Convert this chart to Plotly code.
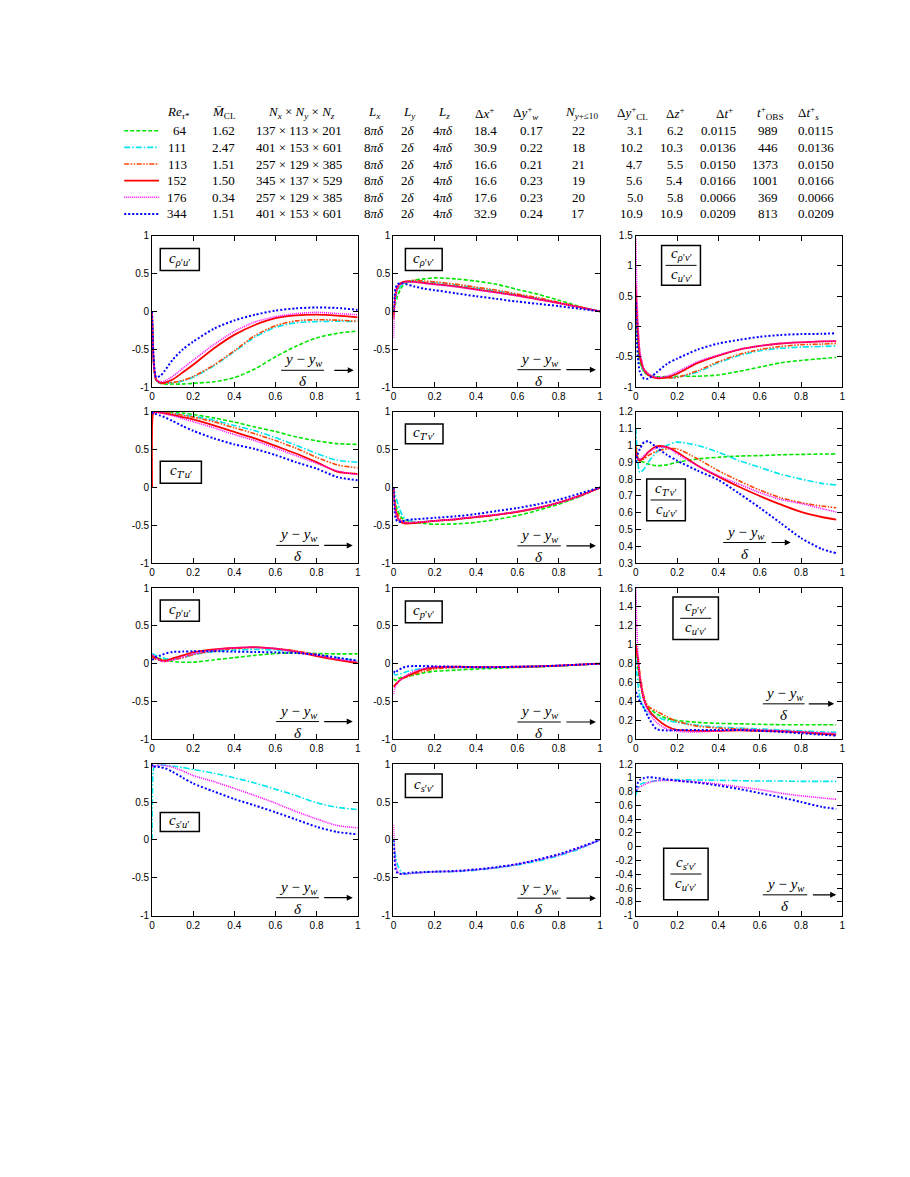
import plotly.graph_objects as go

# page body has an 8px margin; draw in reference pixel coordinates shifted by it
OFF = 8
W, H = 910 - 2 * OFF, 1177 - 2 * OFF
SERIF = "Liberation Serif"
SANS = "Liberation Sans"

# ---------------- table data ----------------
RE_TAU = ["64", "111", "113", "152", "176", "344"]
M_CL = ["1.62", "2.47", "1.51", "1.50", "0.34", "1.51"]
GRID_N = ["137 × 113 × 201", "401 × 153 × 601", "257 × 129 × 385",
          "345 × 137 × 529", "257 × 129 × 385", "401 × 153 × 601"]
L_X = ["8<i>πδ</i>"] * 6
L_Y = ["2<i>δ</i>"] * 6
L_Z = ["4<i>πδ</i>"] * 6
DX_P = ["18.4", "30.9", "16.6", "16.6", "17.6", "32.9"]
DYW_P = ["0.17", "0.22", "0.21", "0.23", "0.23", "0.24"]
NY10 = ["22", "18", "21", "19", "20", "17"]
DYCL_P = ["3.1", "10.2", "4.7", "5.6", "5.0", "10.9"]
DZ_P = ["6.2", "10.3", "5.5", "5.4", "5.8", "10.9"]
DT_P = ["0.0115", "0.0136", "0.0150", "0.0166", "0.0066", "0.0209"]
T_OBS = ["989", "446", "1373", "1001", "369", "813"]
DTS_P = ["0.0115", "0.0136", "0.0150", "0.0166", "0.0066", "0.0209"]

# ---------------- series styles ----------------
COLORS = ["#00e600", "#00e5ee", "#ff4500", "#ff0000", "#ff00ff", "#0000ff"]
DASHES = ["4px,2px", "6px,2px,1.5px,2px", "5px,1.5px,1.5px,1.5px,1.5px,1.5px",
          "solid", "1px,1px", "2px,2px"]
WIDTHS = [1.6, 1.6, 1.6, 1.8, 1.6, 2.0]

# ---------------- curve data ----------------
XA = [0, 0.005, 0.01, 0.02, 0.04, 0.06, 0.1, 0.15, 0.2, 0.3, 0.4, 0.5, 0.6, 0.7, 0.8, 0.9, 1.0]
XB = [0, 0.005, 0.01, 0.02, 0.04, 0.06, 0.1, 0.15, 0.2, 0.3, 0.4, 0.5, 0.6, 0.7, 0.8, 0.9, 0.97]

RHO_U = [
    [0, -0.5, -0.76, -0.91, -0.95, -0.96, -0.96, -0.96, -0.95, -0.93, -0.875, -0.76, -0.6, -0.46, -0.35, -0.29, -0.26],
    [0, -0.5, -0.76, -0.91, -0.95, -0.95, -0.94, -0.92, -0.87, -0.72, -0.53, -0.34, -0.21, -0.15, -0.135, -0.13, -0.135],
    [0, -0.5, -0.76, -0.91, -0.95, -0.95, -0.94, -0.91, -0.86, -0.71, -0.52, -0.32, -0.19, -0.125, -0.11, -0.115, -0.13],
    [0, -0.5, -0.75, -0.9, -0.94, -0.94, -0.9, -0.805, -0.705, -0.49, -0.31, -0.18, -0.09, -0.053, -0.044, -0.057, -0.078],
    [0, -0.5, -0.75, -0.9, -0.93, -0.92, -0.86, -0.75, -0.645, -0.44, -0.265, -0.14, -0.07, -0.03, -0.013, -0.028, -0.045],
    [0, -0.45, -0.7, -0.87, -0.85, -0.79, -0.64, -0.5, -0.40, -0.23, -0.12, -0.045, 0.01, 0.04, 0.052, 0.045, 0.02],
]
RHO_V = [
    [0, 0.05, 0.1, 0.2, 0.32, 0.37, 0.41, 0.43, 0.443, 0.43, 0.40, 0.357, 0.29, 0.226, 0.148, 0.065, 0],
    [0, 0.08, 0.15, 0.27, 0.35, 0.38, 0.40, 0.39, 0.38, 0.35, 0.31, 0.27, 0.22, 0.17, 0.115, 0.055, 0],
    [-0.05, 0.1, 0.2, 0.3, 0.37, 0.39, 0.41, 0.40, 0.39, 0.36, 0.32, 0.28, 0.23, 0.18, 0.12, 0.06, 0],
    [-0.1, 0.1, 0.22, 0.33, 0.38, 0.395, 0.39, 0.375, 0.36, 0.33, 0.29, 0.25, 0.21, 0.16, 0.11, 0.055, 0],
    [-0.35, 0.0, 0.2, 0.32, 0.37, 0.39, 0.39, 0.37, 0.355, 0.325, 0.285, 0.245, 0.205, 0.16, 0.11, 0.055, 0],
    [0, 0.2, 0.3, 0.36, 0.37, 0.36, 0.33, 0.30, 0.28, 0.24, 0.2, 0.165, 0.13, 0.1, 0.07, 0.035, 0],
]
RHO_V_RATIO = [
    [0.3, 0.0, -0.3, -0.6, -0.75, -0.8, -0.83, -0.825, -0.82, -0.82, -0.8, -0.74, -0.67, -0.6, -0.56, -0.53, -0.51],
    [0.5, 0.1, -0.2, -0.55, -0.75, -0.8, -0.84, -0.845, -0.84, -0.75, -0.6, -0.48, -0.4, -0.36, -0.34, -0.33, -0.32],
    [0.7, 0.3, 0.0, -0.45, -0.7, -0.78, -0.85, -0.85, -0.84, -0.73, -0.58, -0.46, -0.38, -0.33, -0.3, -0.29, -0.28],
    [0.6, 0.2, -0.1, -0.5, -0.72, -0.8, -0.85, -0.84, -0.78, -0.6, -0.48, -0.38, -0.32, -0.28, -0.26, -0.245, -0.24],
    [1.45, 0.6, 0.1, -0.4, -0.7, -0.78, -0.84, -0.82, -0.75, -0.58, -0.47, -0.38, -0.32, -0.28, -0.26, -0.245, -0.24],
    [0.4, -0.2, -0.5, -0.75, -0.86, -0.86, -0.76, -0.62, -0.53, -0.38, -0.28, -0.22, -0.17, -0.14, -0.125, -0.12, -0.11],
]
T_U = [
    [1, 0.99, 0.995, 1.0, 1.0, 1.0, 0.995, 0.985, 0.965, 0.92, 0.865, 0.80, 0.74, 0.67, 0.617, 0.58, 0.57],
    [1, 0.99, 0.995, 1.0, 0.995, 0.99, 0.98, 0.96, 0.94, 0.89, 0.82, 0.75, 0.66, 0.56, 0.45, 0.36, 0.335],
    [0, 0.99, 0.995, 1.0, 0.995, 0.99, 0.98, 0.955, 0.93, 0.87, 0.79, 0.71, 0.62, 0.52, 0.40, 0.30, 0.26],
    [0, 0.98, 0.99, 0.995, 0.99, 0.98, 0.96, 0.93, 0.90, 0.82, 0.735, 0.65, 0.55, 0.45, 0.335, 0.21, 0.18],
    [1, 0.98, 0.99, 0.995, 0.99, 0.975, 0.95, 0.91, 0.87, 0.79, 0.70, 0.62, 0.52, 0.42, 0.32, 0.22, 0.17],
    [1, 0.98, 0.98, 0.97, 0.95, 0.93, 0.88, 0.81, 0.75, 0.65, 0.57, 0.51, 0.43, 0.335, 0.25, 0.14, 0.095],
]
T_V = [
    [0, -0.1, -0.2, -0.3, -0.4, -0.43, -0.46, -0.475, -0.485, -0.48, -0.46, -0.42, -0.37, -0.3, -0.22, -0.12, 0],
    [0, -0.05, -0.1, -0.2, -0.35, -0.42, -0.45, -0.45, -0.44, -0.42, -0.39, -0.36, -0.32, -0.27, -0.2, -0.11, 0],
    [0, -0.15, -0.25, -0.35, -0.43, -0.46, -0.46, -0.45, -0.44, -0.42, -0.39, -0.36, -0.32, -0.27, -0.2, -0.11, 0],
    [0, -0.2, -0.3, -0.4, -0.46, -0.475, -0.47, -0.455, -0.44, -0.42, -0.39, -0.36, -0.32, -0.27, -0.2, -0.11, 0],
    [0, -0.2, -0.3, -0.4, -0.45, -0.465, -0.46, -0.45, -0.44, -0.415, -0.385, -0.355, -0.315, -0.265, -0.2, -0.11, 0],
    [0, -0.3, -0.4, -0.45, -0.45, -0.43, -0.42, -0.41, -0.4, -0.38, -0.35, -0.31, -0.27, -0.22, -0.16, -0.08, 0],
]
T_V_RATIO = [
    [0.97, 0.95, 0.93, 0.91, 0.9, 0.89, 0.88, 0.885, 0.9, 0.92, 0.93, 0.937, 0.94, 0.945, 0.947, 0.949, 0.95],
    [1.1, 1.0, 0.9, 0.84, 0.86, 0.9, 0.96, 1.0, 1.02, 1.0, 0.96, 0.91, 0.87, 0.83, 0.80, 0.775, 0.765],
    [1.0, 0.96, 0.93, 0.91, 0.92, 0.94, 0.965, 0.98, 0.98, 0.92, 0.85, 0.79, 0.735, 0.69, 0.66, 0.64, 0.63],
    [0.97, 0.94, 0.92, 0.91, 0.93, 0.96, 0.995, 0.99, 0.96, 0.88, 0.815, 0.755, 0.70, 0.65, 0.605, 0.575, 0.56],
    [0.95, 0.93, 0.92, 0.92, 0.94, 0.96, 0.985, 0.99, 0.95, 0.88, 0.82, 0.77, 0.72, 0.68, 0.655, 0.625, 0.605],
    [0.9, 0.93, 0.95, 0.98, 1.02, 1.025, 0.99, 0.945, 0.91, 0.85, 0.795, 0.715, 0.63, 0.54, 0.45, 0.385, 0.36],
]
P_U = [
    [0.1, 0.1, 0.09, 0.08, 0.065, 0.05, 0.03, 0.02, 0.02, 0.05, 0.08, 0.11, 0.135, 0.143, 0.135, 0.13, 0.13],
    [0.13, 0.13, 0.12, 0.11, 0.09, 0.07, 0.06, 0.08, 0.12, 0.16, 0.18, 0.19, 0.18, 0.16, 0.12, 0.08, 0.04],
    [0.08, 0.08, 0.07, 0.06, 0.04, 0.03, 0.05, 0.08, 0.12, 0.17, 0.2, 0.215, 0.2, 0.17, 0.12, 0.06, 0.0],
    [0.1, 0.1, 0.09, 0.08, 0.05, 0.04, 0.07, 0.11, 0.15, 0.19, 0.21, 0.22, 0.2, 0.16, 0.1, 0.05, 0.01],
    [0.12, 0.11, 0.1, 0.08, 0.04, 0.03, 0.05, 0.09, 0.13, 0.18, 0.21, 0.215, 0.2, 0.16, 0.11, 0.06, 0.03],
    [0.05, 0.06, 0.07, 0.09, 0.11, 0.13, 0.155, 0.16, 0.165, 0.165, 0.16, 0.155, 0.15, 0.14, 0.12, 0.08, 0.04],
]
P_V = [
    [-0.2, -0.21, -0.22, -0.2, -0.18, -0.17, -0.15, -0.12, -0.1, -0.085, -0.07, -0.06, -0.05, -0.04, -0.03, -0.015, 0],
    [-0.12, -0.14, -0.15, -0.14, -0.13, -0.11, -0.08, -0.06, -0.05, -0.05, -0.05, -0.045, -0.04, -0.035, -0.025, -0.012, 0],
    [-0.3, -0.29, -0.27, -0.24, -0.2, -0.18, -0.14, -0.1, -0.07, -0.05, -0.05, -0.045, -0.04, -0.035, -0.025, -0.012, 0],
    [-0.3, -0.29, -0.28, -0.25, -0.2, -0.17, -0.12, -0.07, -0.05, -0.04, -0.045, -0.045, -0.04, -0.035, -0.025, -0.012, 0],
    [-0.4, -0.34, -0.3, -0.25, -0.2, -0.16, -0.1, -0.06, -0.04, -0.04, -0.045, -0.045, -0.04, -0.035, -0.025, -0.012, 0],
    [-0.1, -0.11, -0.12, -0.09, -0.06, -0.04, -0.03, -0.03, -0.035, -0.04, -0.045, -0.045, -0.04, -0.035, -0.025, -0.012, 0],
]
P_V_RATIO = [
    [0.9, 0.82, 0.75, 0.6, 0.42, 0.34, 0.27, 0.22, 0.2, 0.18, 0.17, 0.165, 0.16, 0.155, 0.155, 0.155, 0.155],
    [0.85, 0.7, 0.6, 0.45, 0.33, 0.28, 0.24, 0.2, 0.18, 0.15, 0.13, 0.12, 0.11, 0.1, 0.09, 0.08, 0.075],
    [1.0, 0.95, 0.9, 0.7, 0.45, 0.35, 0.3, 0.24, 0.19, 0.14, 0.12, 0.11, 0.1, 0.09, 0.08, 0.06, 0.05],
    [1.0, 0.92, 0.85, 0.65, 0.42, 0.32, 0.22, 0.14, 0.1, 0.09, 0.09, 0.095, 0.09, 0.085, 0.075, 0.06, 0.05],
    [1.6, 1.2, 0.9, 0.65, 0.42, 0.3, 0.18, 0.11, 0.085, 0.08, 0.09, 0.1, 0.1, 0.09, 0.08, 0.07, 0.065],
    [0.5, 0.48, 0.45, 0.4, 0.33, 0.24, 0.11, 0.095, 0.1, 0.1, 0.1, 0.1, 0.09, 0.08, 0.065, 0.05, 0.04],
]
S_U = [
    [0, 0.9, 0.97, 0.985, 0.99, 0.99, 0.975, 0.955, 0.93, 0.88, 0.82, 0.75, 0.67, 0.585, 0.49, 0.43, 0.40],
    [1, 0.96, 0.97, 0.98, 0.99, 0.985, 0.96, 0.91, 0.85, 0.77, 0.68, 0.585, 0.485, 0.375, 0.277, 0.19, 0.16],
    [1, 0.96, 0.965, 0.97, 0.96, 0.95, 0.9, 0.82, 0.745, 0.64, 0.54, 0.455, 0.365, 0.27, 0.173, 0.104, 0.074],
]
S_V = [
    [0, -0.1, -0.2, -0.33, -0.43, -0.45, -0.44, -0.43, -0.42, -0.42, -0.4, -0.37, -0.33, -0.28, -0.21, -0.12, 0],
    [0.2, -0.1, -0.3, -0.42, -0.45, -0.45, -0.44, -0.43, -0.42, -0.415, -0.395, -0.365, -0.32, -0.265, -0.2, -0.11, 0],
    [0, -0.25, -0.38, -0.44, -0.45, -0.44, -0.43, -0.425, -0.42, -0.41, -0.39, -0.36, -0.32, -0.26, -0.19, -0.1, 0],
]
S_V_RATIO = [
    [0.75, 0.8, 0.85, 0.9, 0.93, 0.94, 0.96, 0.97, 0.975, 0.97, 0.965, 0.96, 0.955, 0.955, 0.95, 0.95, 0.95],
    [0.8, 0.83, 0.85, 0.87, 0.9, 0.93, 0.96, 0.965, 0.96, 0.94, 0.91, 0.87, 0.83, 0.78, 0.74, 0.71, 0.69],
    [0.8, 0.88, 0.93, 0.97, 1.0, 1.01, 1.0, 0.98, 0.96, 0.93, 0.89, 0.84, 0.78, 0.72, 0.65, 0.58, 0.55],
]

ALL6 = [0, 1, 2, 3, 4, 5]
S3 = [1, 4, 5]
PANELS = [
    (XA, RHO_U, ALL6), (XA, RHO_V, ALL6), (XB, RHO_V_RATIO, ALL6),
    (XA, T_U, ALL6), (XA, T_V, ALL6), (XB, T_V_RATIO, ALL6),
    (XA, P_U, ALL6), (XA, P_V, ALL6), (XB, P_V_RATIO, ALL6),
    (XA, S_U, S3), (XA, S_V, S3), (XB, S_V_RATIO, S3),
]

Y_STD = ([-1, 1], [-1, -0.5, 0, 0.5, 1])
Y_C3 = [
    ([-1, 1.5], [-1, -0.5, 0, 0.5, 1, 1.5]),
    ([0.3, 1.2], [0.3, 0.4, 0.5, 0.6, 0.7, 0.8, 0.9, 1.0, 1.1, 1.2]),
    ([0, 1.6], [0, 0.2, 0.4, 0.6, 0.8, 1.0, 1.2, 1.4, 1.6]),
    ([-1, 1.2], [-1, -0.8, -0.6, -0.4, -0.2, 0, 0.2, 0.4, 0.6, 0.8, 1.0, 1.2]),
]
X_TICKS = [0, 0.2, 0.4, 0.6, 0.8, 1.0]

def lbl(v):
    return f"{round(v, 2):g}"

# layout geometry in reference pixels
COL_PX = [(150, 357), (393, 601), (637, 845)]
ROW_PX = [(232, 385), (410, 563), (588, 741), (766, 919)]

def px(xp):
    return (xp - OFF) / W

def py(yp):
    return 1 - (yp - OFF) / H

fig = go.Figure()

def axid(i):
    return ("" if i == 1 else str(i))

for i, (xs, data, ser) in enumerate(PANELS, start=1):
    for k, s in enumerate(ser):
        fig.add_trace(go.Scatter(
            x=xs, y=data[k], mode="lines",
            line=dict(color=COLORS[s], dash=DASHES[s], width=WIDTHS[s],
                      shape="spline", smoothing=0.7),
            xaxis="x" + axid(i), yaxis="y" + axid(i),
            showlegend=False, hoverinfo="skip"))

layout = {}
for i in range(1, 13):
    r, c = divmod(i - 1, 3)
    x0, x1 = COL_PX[c]
    t, b = ROW_PX[r]
    yr, yt = (Y_C3[r] if c == 2 else Y_STD)
    common = dict(ticks="inside", ticklen=5, tickwidth=1, tickcolor="black",
                  showline=True, mirror="ticks", linecolor="black", linewidth=1,
                  showgrid=False, zeroline=False,
                  tickfont=dict(family=SANS, size=10, color="black"))
    layout["xaxis" + axid(i)] = dict(
        domain=[px(x0), px(x1)], range=[0, 1], anchor="y" + axid(i),
        tickmode="array", tickvals=X_TICKS, ticktext=[lbl(v) for v in X_TICKS],
        **common)
    layout["yaxis" + axid(i)] = dict(
        domain=[py(b), py(t)], range=yr, anchor="x" + axid(i),
        tickmode="array", tickvals=yt, ticktext=[lbl(v) for v in yt],
        **common)

fig.update_layout(**layout)

shapes = []
annots = []

def txt(text, x, y, xref="paper", yref="paper", size=13, xanchor="center",
        yanchor="middle", xshift=0, yshift=0, family=SERIF):
    annots.append(dict(text=text, x=x, y=y, xref=xref, yref=yref, showarrow=False,
                       xanchor=xanchor, yanchor=yanchor, xshift=xshift, yshift=yshift,
                       font=dict(family=family, size=size, color="black")))

def csub(a, b):
    return f"<i>c</i><sub><i>{a}</i>′<i>{b}</i>′</sub>"

BOXES = [
    (1, (0.04, 0.23, 0.77, 0.915), csub("ρ", "u"), None),
    (2, (0.058, 0.236, 0.77, 0.915), csub("ρ", "v"), None),
    (3, (0.125, 0.313, 0.673, 0.935), csub("ρ", "v"), csub("u", "v")),
    (4, (0.04, 0.24, 0.529, 0.673), csub("T", "u"), None),
    (5, (0.058, 0.24, 0.79, 0.92), csub("T", "v"), None),
    (6, (0.053, 0.24, 0.28, 0.556), csub("T", "v"), csub("u", "v")),
    (7, (0.04, 0.23, 0.78, 0.92), csub("p", "u"), None),
    (8, (0.058, 0.236, 0.77, 0.915), csub("p", "v"), None),
    (9, (0.18, 0.40, 0.66, 0.94), csub("p", "v"), csub("u", "v")),
    (10, (0.04, 0.23, 0.555, 0.68), csub("s", "u"), None),
    (11, (0.058, 0.236, 0.78, 0.935), csub("s", "v"), None),
    (12, (0.135, 0.35, 0.105, 0.444), csub("s", "v"), csub("u", "v")),
]
for i, (bx0, bx1, by0, by1), num, den in BOXES:
    xr, yr_ = f"x{axid(i)} domain", f"y{axid(i)} domain"
    shapes.append(dict(type="rect", xref=xr, yref=yr_, x0=bx0, x1=bx1, y0=by0, y1=by1,
                       line=dict(color="black", width=1.5), fillcolor="white", layer="above"))
    cx, cy = (bx0 + bx1) / 2, (by0 + by1) / 2
    if den is None:
        txt(num, cx, cy, xr, yr_, size=15, yshift=1)
    else:
        txt(num, cx, cy, xr, yr_, size=15, yshift=11)
        txt(den, cx, cy, xr, yr_, size=15, yshift=-10)
        shapes.append(dict(type="line", xref=xr, yref=yr_, x0=cx - 0.075, x1=cx + 0.075,
                           y0=cy, y1=cy, line=dict(color="black", width=1), layer="above"))

STD = (0.60, 0.81, 0.115, 0.83, 0.98)
FRACS = [
    (1, (0.628, 0.836, 0.111, 0.879, 0.981)), (2, STD),
    (4, (0.604, 0.812, 0.118, 0.83, 0.976)), (5, STD), (6, (0.423, 0.63, 0.137, 0.65, 0.75)),
    (7, (0.604, 0.812, 0.118, 0.83, 0.976)), (8, STD), (9, (0.615, 0.817, 0.235, 0.83, 0.96)),
    (10, (0.604, 0.812, 0.118, 0.83, 0.976)), (11, STD), (12, (0.615, 0.83, 0.137, 0.85, 0.97)),
]
for i, (lx0, lx1, ly, ax0, ax1) in FRACS:
    xr, yr_ = f"x{axid(i)} domain", f"y{axid(i)} domain"
    shapes.append(dict(type="line", xref=xr, yref=yr_, x0=lx0, x1=lx1, y0=ly, y1=ly,
                       line=dict(color="black", width=1), layer="above"))
    cx = (lx0 + lx1) / 2
    txt("<i>y</i> − <i>y</i><sub><i>w</i></sub>", cx, ly, xr, yr_, size=15, yshift=10)
    txt("<i>δ</i>", cx, ly, xr, yr_, size=15, yshift=-11)
    annots.append(dict(x=ax1, y=ly, xref=xr, yref=yr_, ax=ax0, ay=ly, axref=xr, ayref=yr_,
                       showarrow=True, arrowhead=2, arrowsize=1, arrowwidth=1.2,
                       arrowcolor="black", text=""))

# ---------------- top table ----------------
HDR_Y = 108
ROW_Y = [126 + 16.8 * k for k in range(6)]

HEADERS = [
    (177, "<i>Re</i><sub><i>τ</i>*</sub>"),
    (222, "<i>M̄</i><sub>CL</sub>"),
    (300, "<i>N<sub>x</sub></i> × <i>N<sub>y</sub></i> × <i>N<sub>z</sub></i>"),
    (373, "<i>L<sub>x</sub></i>"),
    (409, "<i>L<sub>y</sub></i>"),
    (444, "<i>L<sub>z</sub></i>"),
    (485, "Δ<i>x</i><sup>+</sup>"),
    (526, "Δ<i>y</i><sup>+</sup><sub><i>w</i></sub>"),
    (582, "<i>N</i><sub><i>y</i>+≤10</sub>"),
    (634, "Δ<i>y</i><sup>+</sup><sub>CL</sub>"),
    (677, "Δ<i>z</i><sup>+</sup>"),
    (726, "Δ<i>t</i><sup>+</sup>"),
    (772, "<i>t</i><sup>+</sup><sub>OBS</sub>"),
    (811, "Δ<i>t</i><sup>+</sup><sub><i>s</i></sub>"),
]
for xp, h in HEADERS:
    txt(h, px(xp), py(HDR_Y), size=13)

COLUMNS = [
    (187, "right", RE_TAU), (222, "center", M_CL), (298, "center", GRID_N),
    (373, "center", L_X), (408, "center", L_Y), (443, "center", L_Z),
    (486, "center", DX_P), (532, "center", DYW_P), (579, "center", NY10),
    (646, "right", DYCL_P), (687, "right", DZ_P), (720, "center", DT_P),
    (782, "right", T_OBS), (818, "center", DTS_P),
]
for xp, anc, vals in COLUMNS:
    for k, v in enumerate(vals):
        txt(v, px(xp), py(ROW_Y[k]), size=13, xanchor=anc)

for k in range(6):
    shapes.append(dict(type="line", xref="paper", yref="paper",
                       x0=px(122), x1=px(157), y0=py(ROW_Y[k]), y1=py(ROW_Y[k]),
                       line=dict(color=COLORS[k], dash=DASHES[k], width=WIDTHS[k])))

fig.update_layout(
    width=W, height=H, margin=dict(l=0, r=0, t=0, b=0),
    paper_bgcolor="white", plot_bgcolor="white",
    shapes=shapes, annotations=annots, showlegend=False,
)

fig.write_html("out.html")
